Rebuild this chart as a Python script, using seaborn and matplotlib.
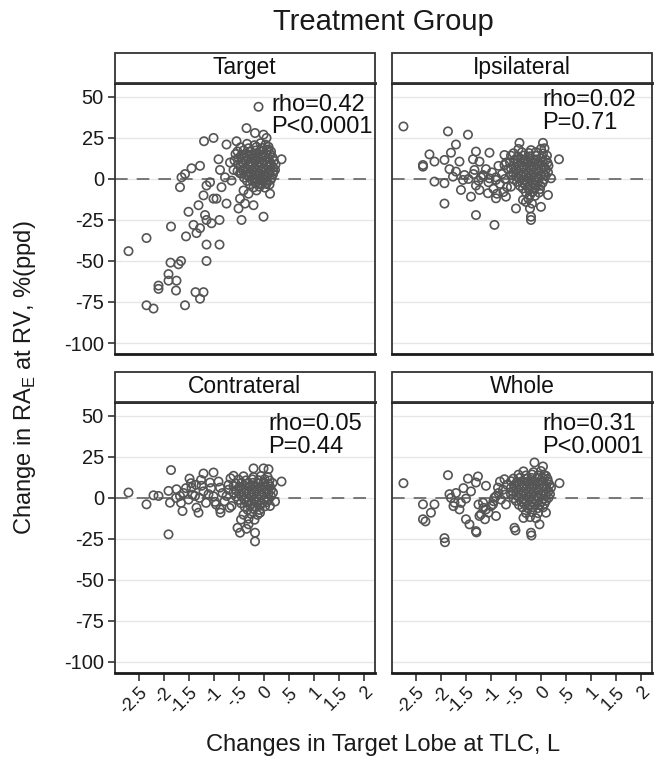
import pandas as pd
import seaborn as sns
import matplotlib.pyplot as plt
from matplotlib.patches import Rectangle

panels = ['Target', 'Ipsilateral', 'Contrateral', 'Whole']
rho_labels = ['rho=0.42', 'rho=0.02', 'rho=0.05', 'rho=0.31']
p_labels = ['P<0.0001', 'P=0.71', 'P=0.44', 'P<0.0001']
x_ticks = [-2.5, -2, -1.5, -1, -0.5, 0, 0.5, 1, 1.5, 2]
x_ticklabels = ['-2.5', '-2', '-1.5', '-1', '-.5', '0', '.5', '1', '1.5', '2']
y_ticks = [50, 25, 0, -25, -50, -75, -100]

# values (change in target lobe volume, change in RA_E)
target_pts = [
    (-0.10, 44), (-2.70, -44), (-2.34, -36), (-2.34, -77), (-2.20, -79), (-2.10, -65),
    (-2.10, -67), (-1.90, -58), (-1.90, -62), (-1.74, -62), (-1.75, -68), (-1.57, -77),
    (-1.86, -51), (-1.70, -52), (-1.65, -50), (-1.85, -29), (-1.55, -35), (-1.50, -20),
    (-1.67, -5), (-1.64, 1), (-1.57, 3), (-1.44, 6.5), (-1.27, 8), (-1.19, 23), (-1.00, 25),
    (-1.36, -69), (-1.20, -69), (-1.27, -73), (-1.14, -50), (-1.14, -40), (-0.88, -40),
    (-1.40, -28), (-1.34, -33), (-1.27, -30), (-1.17, -22), (-1.14, -25), (-1.04, -27),
    (-0.88, -25), (-1.30, -16), (-1.20, -10), (-1.14, -4), (-1.07, -2), (-1.00, -12),
    (-0.94, -12), (-0.74, -15), (-0.84, -5), (-0.90, 12), (-0.74, 21), (-0.54, 23),
    (-0.44, -25), (0.00, -23), (-0.50, -18), (-0.37, -15), (-0.20, -16), (0.36, 12),
    (0.23, 5.5), (0.13, -9), (-0.34, 31), (-0.17, 28), (0.00, 27), (0.06, 25), (0.10, 18),
    (-0.87, 5.5), (-0.67, 10), (-0.77, 1), (-0.64, -1), (-0.60, 5.5), (-0.47, 3.5),
    (-0.40, -7), (-0.47, -12), (-0.30, -9), (-0.14, -7), (-0.07, -3), (0.06, -3),
    (-0.33, 21.4), (-0.18, 20.6), (-0.06, 21.8), (0.04, 20.9),
    (-0.46, 19.3), (-0.30, 18.7), (-0.14, 19.5), (-0.02, 18.9), (0.10, 19.6),
    (-0.52, 16.8), (-0.40, 17.4), (-0.26, 16.6), (-0.16, 17.3), (-0.06, 16.9), (0.06, 17.5), (0.15, 16.7),
    (-0.56, 15.2), (-0.44, 14.6), (-0.34, 15.4), (-0.24, 14.8), (-0.14, 15.3), (-0.04, 14.7), (0.05, 15.1), (0.14, 14.9),
    (-0.50, 12.8), (-0.38, 13.3), (-0.30, 12.6), (-0.20, 13.2), (-0.10, 12.9), (-0.01, 13.4), (0.09, 12.7), (0.18, 13.1),
    (-0.58, 11.3), (-0.45, 10.7), (-0.35, 11.1), (-0.26, 10.6), (-0.17, 11.4), (-0.08, 10.8), (0.02, 11.2), (0.12, 10.6), (0.21, 11.0),
    (-0.50, 8.8), (-0.40, 9.3), (-0.31, 8.7), (-0.22, 9.2), (-0.13, 8.9), (-0.04, 9.4), (0.06, 8.6), (0.15, 9.1), (0.24, 8.8),
    (-0.46, 7.2), (-0.36, 6.7), (-0.27, 7.3), (-0.18, 6.8), (-0.09, 7.1), (0.00, 6.6), (0.10, 7.2), (0.19, 6.9),
    (-0.52, 4.8), (-0.41, 5.3), (-0.32, 4.7), (-0.23, 5.2), (-0.14, 4.9), (-0.05, 5.4), (0.04, 4.8), (0.13, 5.1), (0.20, 4.6),
    (-0.44, 3.2), (-0.35, 2.7), (-0.26, 3.3), (-0.17, 2.8), (-0.08, 3.1), (0.02, 2.6), (0.11, 3.2), (0.19, 2.9),
    (-0.39, 0.8), (-0.29, 1.3), (-0.20, 0.7), (-0.11, 1.2), (-0.02, 0.9), (0.07, 1.4), (0.16, 0.6),
    (-0.33, -1.2), (-0.23, -0.7), (-0.13, -1.3), (-0.04, -0.8), (0.06, -1.1), (0.14, -0.6),
    (-0.27, -3.3), (-0.16, -2.7), (-0.06, -3.2), (0.04, -2.8), (0.12, -3.4),
    (-0.20, -5.2), (-0.08, -4.7), (0.03, -5.3),
]

ipsi_pts = [
    (-2.75, 32), (-1.86, 29), (-1.46, 27), (-1.70, 21), (-2.23, 15), (-2.36, 8.5), (-2.36, 7.5),
    (-2.13, 10.6), (-1.93, 11.6), (-1.80, 16), (-1.63, 10.6), (-1.83, 6), (-1.70, 4.5),
    (-1.53, 2.4), (-2.13, -1.6), (-1.93, -2.6), (-1.93, -15), (-1.60, -6.7), (-1.40, -10.8),
    (-1.30, -22), (-0.93, -28), (-1.30, 16.7), (-1.03, 16), (-1.36, 12), (-1.23, 10.6),
    (-1.33, 5.5), (-1.16, 2.4), (-1.03, 0.4), (-0.90, -0.6), (-1.23, -6.7), (-1.06, -8.7),
    (-0.90, -11.8), (-0.70, -10.8), (-0.73, 14.6), (-0.73, 8.5), (-0.43, 22), (0.04, 22),
    (0.07, 18.7), (0.36, 12), (0.20, 0.4), (0.14, -9.8), (0.00, -17), (-0.20, -23),
    (-0.20, -25), (-0.50, -18), (-0.36, -12.8), (-0.60, -4.7), (-1.56, -0.6), (-1.76, 1.4),
    (-1.45, 0), (-1.35, 3), (-1.25, -1), (-1.15, 2), (-1.05, -2), (-0.98, 4), (-0.90, 1),
    (-0.82, -3), (-0.78, 3), (-0.72, 0), (-0.68, -5), (-0.66, 6), (-1.30, -4), (-1.10, 6),
    (-0.95, -6), (-0.85, 8), (-1.20, 1), (-0.75, -8), (-0.88, -9), (-0.70, 10),
    (-0.22, -18), (-0.18, -15), (-0.25, -12), (-0.30, -14),
    (-0.45, 18.3), (-0.20, 17.6), (0.00, 18.4),
    (-0.55, 15.7), (-0.38, 16.3), (-0.24, 15.8), (-0.10, 16.4), (0.04, 15.6),
    (-0.60, 14.2), (-0.46, 13.7), (-0.34, 14.3), (-0.22, 13.8), (-0.10, 14.1), (0.02, 13.6), (0.12, 14.2),
    (-0.52, 11.8), (-0.40, 12.3), (-0.30, 11.7), (-0.20, 12.2), (-0.10, 11.9), (0.00, 12.4), (0.10, 11.6),
    (-0.62, 10.2), (-0.48, 9.7), (-0.37, 10.3), (-0.27, 9.8), (-0.17, 10.1), (-0.07, 9.6), (0.03, 10.2), (0.13, 9.9),
    (-0.55, 7.8), (-0.44, 8.3), (-0.34, 7.7), (-0.24, 8.2), (-0.14, 7.9), (-0.04, 8.4), (0.06, 7.6), (0.15, 8.1),
    (-0.60, 6.2), (-0.49, 5.7), (-0.39, 6.3), (-0.29, 5.8), (-0.19, 6.1), (-0.09, 5.6), (0.01, 6.2), (0.10, 5.9),
    (-0.56, 3.8), (-0.45, 4.3), (-0.35, 3.7), (-0.25, 4.2), (-0.15, 3.9), (-0.05, 4.4), (0.05, 3.6), (0.14, 4.1),
    (-0.60, 2.2), (-0.50, 1.7), (-0.40, 2.3), (-0.30, 1.8), (-0.20, 2.1), (-0.10, 1.6), (0.00, 2.2), (0.09, 1.9),
    (-0.55, -0.2), (-0.44, 0.3), (-0.34, -0.3), (-0.24, 0.2), (-0.14, -0.1), (-0.04, 0.4), (0.06, -0.4),
    (-0.48, -1.8), (-0.37, -2.3), (-0.27, -1.7), (-0.17, -2.2), (-0.07, -1.9), (0.03, -2.4),
    (-0.42, -4.2), (-0.31, -3.7), (-0.21, -4.3), (-0.11, -3.8), (-0.01, -4.1),
    (-0.36, -5.8), (-0.24, -6.3), (-0.12, -5.7), (-0.02, -6.2),
    (-0.30, -8.2), (-0.16, -7.7), (-0.04, -8.3),
    (-0.22, -9.8), (-0.12, -10.3),
]

contra_pts = [
    (-2.70, 3.3), (-2.34, -3.9), (-2.20, 1.6), (-2.10, 1.2), (-1.90, -22.2), (-1.85, 17),
    (-1.90, 4.3), (-1.87, -2.9), (-1.74, 5.3), (-1.67, 1.2), (-1.62, -8), (-1.48, 11.8),
    (-1.44, 6.3), (-1.37, 1.2), (-1.34, -5.9), (-1.30, -9), (-1.20, 14.9), (-1.24, 7.4),
    (-1.10, 2.3), (-1.07, 9.4), (-1.00, 15.5), (-0.97, -2.4), (-0.87, -6.9), (-0.87, 6.3),
    (-0.70, 8), (-0.74, 1.2), (-0.60, 13.5), (-0.64, -4.9), (-0.52, -18.2), (-0.47, -21.2),
    (-0.34, -18.8), (-0.30, -16.1), (-0.17, -21.2), (-0.17, -26.5), (-0.20, 18), (0.00, 18),
    (0.10, 17.5), (0.36, 10), (0.23, -2.2), (0.13, -4.9), (-0.07, -9),
    (-1.60, 3), (-1.55, 6), (-1.50, -1), (-1.42, 2), (-1.35, 8), (-1.28, 0), (-1.20, 4),
    (-1.15, -3), (-1.05, 6), (-1.00, 1), (-0.95, -4), (-0.90, 10), (-0.82, 3), (-0.78, -2),
    (-0.70, 5), (-0.66, 12), (-0.68, -6), (-1.25, 11), (-1.45, 9), (-0.86, -9), (-1.75, 0),
    (-1.65, -3),
    (-0.40, 13.2), (-0.20, 12.7), (-0.05, 13.4), (0.08, 12.8),
    (-0.50, 11.2), (-0.35, 10.7), (-0.22, 11.3), (-0.10, 10.8), (0.02, 11.4), (0.12, 10.6),
    (-0.56, 8.8), (-0.44, 9.3), (-0.32, 8.7), (-0.21, 9.2), (-0.10, 8.9), (0.00, 9.4), (0.10, 8.6), (0.18, 9.1),
    (-0.60, 7.2), (-0.48, 6.7), (-0.37, 7.3), (-0.27, 6.8), (-0.17, 7.1), (-0.07, 6.6), (0.03, 7.2), (0.13, 6.9),
    (-0.55, 4.8), (-0.44, 5.3), (-0.34, 4.7), (-0.24, 5.2), (-0.14, 4.9), (-0.04, 5.4), (0.06, 4.8), (0.15, 5.1),
    (-0.60, 3.2), (-0.49, 2.7), (-0.39, 3.3), (-0.29, 2.8), (-0.19, 3.1), (-0.09, 2.6), (0.01, 3.2), (0.10, 2.9), (0.19, 3.3),
    (-0.55, 0.8), (-0.44, 1.3), (-0.34, 0.7), (-0.24, 1.2), (-0.14, 0.9), (-0.04, 1.4), (0.06, 0.6), (0.15, 1.1),
    (-0.50, -1.2), (-0.39, -0.7), (-0.29, -1.3), (-0.19, -0.8), (-0.09, -1.1), (0.01, -0.6), (0.10, -1.2),
    (-0.45, -3.2), (-0.34, -2.7), (-0.24, -3.3), (-0.14, -2.8), (-0.04, -3.1), (0.06, -2.6),
    (-0.38, -5.2), (-0.27, -4.7), (-0.17, -5.3), (-0.07, -4.8), (0.03, -5.1),
    (-0.32, -7.2), (-0.20, -6.7), (-0.08, -7.3),
    (-0.40, -10.2), (-0.25, -9.7), (-0.12, -10.3),
    (-0.45, -13.2), (-0.30, -12.7), (-0.18, -13.3),
]

whole_pts = [
    (-2.75, 9), (-1.86, 13.9), (-2.36, -3.9), (-2.36, -13), (-2.20, -9), (-2.13, -3.9),
    (-1.83, 2.3), (-1.73, -2.9), (-1.63, -7), (-1.50, -0.4), (-1.46, 11.8), (-1.30, 9.4),
    (-1.26, 13.1), (-1.10, 7.4), (-1.50, -13), (-1.43, -16.1), (-1.30, -20.2), (-1.23, -11),
    (-1.10, -7), (-0.96, -3.9), (-1.16, -2.9), (-0.93, 0.2), (-0.86, 6.3), (-0.73, 11.4),
    (-0.53, -18.2), (-0.20, -21.2), (-0.03, -16.1), (0.10, -9), (0.37, 9), (-0.13, 21.6),
    (0.04, 19.2), (0.10, 13.5), (-1.93, -24.5), (-1.92, -27), (-1.29, -21), (-0.51, -19.8),
    (-0.19, -22.9), (-2.31, -14.3),
    (-1.00, -5), (-0.95, -2), (-0.90, 1), (-0.85, 3), (-0.80, -1), (-0.76, 5), (-0.72, 2),
    (-0.68, 8), (-0.70, -4), (-1.05, -9), (-1.15, -6), (-1.20, -10), (-1.12, -13), (-1.25, -4),
    (-0.90, -11), (-0.82, 10), (-1.40, 4), (-1.55, 6), (-1.60, -3), (-1.70, 3), (-1.75, -5),
    (-1.80, 0),
    (-0.35, 16.2), (-0.15, 15.7), (0.00, 16.4),
    (-0.45, 14.2), (-0.30, 13.7), (-0.18, 14.3), (-0.05, 13.8), (0.06, 14.1),
    (-0.55, 11.8), (-0.42, 12.3), (-0.30, 11.7), (-0.19, 12.2), (-0.08, 11.9), (0.03, 12.4), (0.13, 11.6),
    (-0.60, 10.2), (-0.48, 9.7), (-0.37, 10.3), (-0.26, 9.8), (-0.16, 10.1), (-0.06, 9.6), (0.04, 10.2), (0.14, 9.9),
    (-0.54, 7.8), (-0.43, 8.3), (-0.33, 7.7), (-0.23, 8.2), (-0.13, 7.9), (-0.03, 8.4), (0.07, 7.6), (0.17, 8.1),
    (-0.60, 6.2), (-0.49, 5.7), (-0.39, 6.3), (-0.29, 5.8), (-0.19, 6.1), (-0.09, 5.6), (0.01, 6.2), (0.11, 5.9), (0.20, 6.3),
    (-0.56, 3.8), (-0.45, 4.3), (-0.35, 3.7), (-0.25, 4.2), (-0.15, 3.9), (-0.05, 4.4), (0.05, 3.6), (0.15, 4.1),
    (-0.60, 2.2), (-0.50, 1.7), (-0.40, 2.3), (-0.30, 1.8), (-0.20, 2.1), (-0.10, 1.6), (0.00, 2.2), (0.10, 1.9), (0.18, 2.3),
    (-0.55, -0.2), (-0.44, 0.3), (-0.34, -0.3), (-0.24, 0.2), (-0.14, -0.1), (-0.04, 0.4), (0.06, -0.4), (0.15, 0.1),
    (-0.50, -1.8), (-0.39, -2.3), (-0.29, -1.7), (-0.19, -2.2), (-0.09, -1.9), (0.01, -2.4), (0.10, -1.7),
    (-0.44, -4.2), (-0.33, -3.7), (-0.23, -4.3), (-0.13, -3.8), (-0.03, -4.1), (0.07, -3.6),
    (-0.37, -5.8), (-0.26, -6.3), (-0.16, -5.7), (-0.06, -6.2), (0.04, -5.8),
    (-0.30, -9.2), (-0.18, -8.7), (-0.06, -9.3),
    (-0.35, -12.2), (-0.22, -11.7), (-0.10, -12.3),
]

frames = []
for name, pts in zip(panels, [target_pts, ipsi_pts, contra_pts, whole_pts]):
    d = pd.DataFrame(pts, columns=['dtlc', 'drae'])
    d['group'] = name
    frames.append(d)
df = pd.concat(frames, ignore_index=True)

sns.set_style('white')
plt.rcParams['font.family'] = ['Liberation Sans', 'DejaVu Sans']

fig, axs = plt.subplots(2, 2, figsize=(6.56, 7.6), dpi=100, sharex=True, sharey=True)
fig.subplots_adjust(left=0.1753, right=0.9939, top=0.8908, bottom=0.1145,
                    wspace=0.069, hspace=0.177)

# where the rho / P text sits in each panel (x, y of first line, y of second line)
text_pos = [(0.15, 45, 31.7), (0.03, 48, 34), (0.09, 45, 31), (0.03, 45, 31)]

for i, ax in enumerate(axs.flat):
    sub = df[df['group'] == panels[i]]
    for yv in y_ticks:
        ax.axhline(yv, color='#e6e6e6', lw=1, zorder=0)
    ax.axhline(0, color='#6e6e6e', lw=1.3, ls=(0, (7, 5)), zorder=1)
    sns.scatterplot(data=sub, x='dtlc', y='drae', ax=ax, marker='o', s=36,
                    facecolor='none', edgecolor='#555555', linewidth=1.2, zorder=2)
    ax.set_xlim(-2.97, 2.22)
    ax.set_ylim(-106.7, 58.5)
    ax.set_xlabel('')
    ax.set_ylabel('')

    for side in ['left', 'right']:
        ax.spines[side].set_color('#333333')
        ax.spines[side].set_linewidth(1.3)
    for side in ['top', 'bottom']:
        ax.spines[side].set_color('#1a1a1a')
        ax.spines[side].set_linewidth(2)

    # facet strip
    strip_h = 30 / 271
    ax.add_patch(Rectangle((0, 1), 1, strip_h, transform=ax.transAxes, clip_on=False,
                           facecolor='white', edgecolor='#333333', lw=1.3, zorder=5))
    ax.text(0.5, 1 + strip_h / 2, panels[i], transform=ax.transAxes, ha='center',
            va='center', fontsize=16.5, color='#111111', zorder=6)

    tx, ty1, ty2 = text_pos[i]
    ax.text(tx, ty1, rho_labels[i], ha='left', va='center', fontsize=17, color='#111111')
    ax.text(tx, ty2, p_labels[i], ha='left', va='center', fontsize=17, color='#111111')

    row, col = divmod(i, 2)
    ax.set_yticks(y_ticks)
    ax.set_xticks(x_ticks)
    if col == 0:
        ax.tick_params(axis='y', direction='out', length=5, width=1.2, color='#333333',
                       labelsize=14.5, labelcolor='#1a1a1a', left=True, pad=3)
        ax.set_yticklabels([str(v) for v in y_ticks])
    else:
        ax.tick_params(axis='y', left=False, labelleft=False)
    if row == 1:
        ax.tick_params(axis='x', direction='out', length=6, width=1.2, color='#333333',
                       labelsize=13, labelcolor='#1a1a1a', bottom=True, pad=2)
        ax.set_xticklabels(x_ticklabels, rotation=45, ha='right', rotation_mode='anchor')
    else:
        ax.tick_params(axis='x', bottom=False, labelbottom=False)

fig.text(0.5846, 0.971, 'Treatment Group', ha='center', va='center', fontsize=21,
         color='#1a1a1a')
fig.text(0.5846, 0.02, 'Changes in Target Lobe at TLC, L', ha='center', va='center',
         fontsize=17, color='#1a1a1a')
fig.text(0.038, 0.503, r'Change in RA$_\mathregular{E}$ at RV, %(ppd)', ha='center',
         va='center', rotation=90, fontsize=17, color='#1a1a1a')

fig.savefig('out.png', dpi=100)
